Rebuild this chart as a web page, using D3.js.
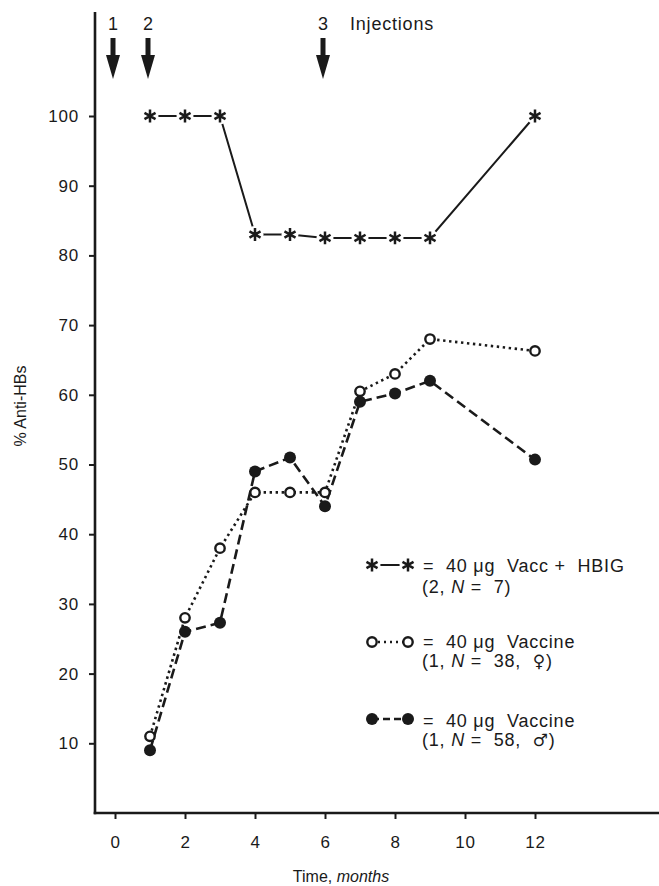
<!DOCTYPE html>
<html>
<head>
<meta charset="utf-8">
<script src="https://cdn.jsdelivr.net/npm/d3@7"></script>
<style>
  body { margin: 0; background: #fff; }
  svg { display: block; font-family: "Liberation Sans", Arial, "DejaVu Sans", sans-serif; }
  .tick text { font-size: 17px; letter-spacing: 0.8px; fill: #1a1a1a; }
  .leg { font-size: 18px; letter-spacing: 0.8px; white-space: pre; fill: #1a1a1a; }
  .sex { font-family: "DejaVu Sans", sans-serif; font-size: 17px; }
</style>
</head>
<body>
<div id="chart-area"></div>
<script>
// Data
const months = [1, 2, 3, 4, 5, 6, 7, 8, 9, 12];
const hbig = [100, 100, 100, 83, 83, 82.5, 82.5, 82.5, 82.5, 100];
const vaccFemale = [11, 28, 38, 46, 46, 46, 60.5, 63, 68, 66.3];
const vaccMale = [9, 26, 27.3, 49, 51, 44, 59, 60.2, 62, 50.7];
const xTicks = [0, 2, 4, 6, 8, 10, 12];
const yTicks = [10, 20, 30, 40, 50, 60, 70, 80, 90, 100];
const injectionMonths = [0, 1, 6];
const injectionLabels = ["1", "2", "3"];

const width = 659;
const height = 886;
const ink = "#1a1a1a";

const svg = d3
    .select("#chart-area")
    .append("svg")
    .attr("width", width)
    .attr("height", height);

//Scales
const xScale = d3.scaleLinear().domain([0, 12]).range([115, 535]);
const yScale = d3.scaleLinear().domain([0, 100]).range([813, 116]);

const axisX = 95;
const axisY = 813;

//Axes
const yAxisCall = d3.axisLeft(yScale).tickValues(yTicks).tickSize(6).tickPadding(10);
const xAxisCall = d3.axisBottom(xScale).tickValues(xTicks).tickSize(6).tickPadding(17);

const gy = svg.append("g").attr("transform", `translate(${axisX}, 0)`).call(yAxisCall);
const gx = svg.append("g").attr("transform", `translate(0, ${axisY})`).call(xAxisCall);
gy.select(".domain").remove();
gx.select(".domain").remove();
svg.selectAll(".tick line").attr("stroke", ink).attr("stroke-width", 2);

svg.append("line")
    .attr("x1", axisX).attr("x2", axisX)
    .attr("y1", 12).attr("y2", axisY + 1.2)
    .attr("stroke", ink).attr("stroke-width", 2.6);
svg.append("line")
    .attr("x1", axisX - 1.3).attr("x2", width)
    .attr("y1", axisY).attr("y2", axisY)
    .attr("stroke", ink).attr("stroke-width", 2.6);

//Labels
svg.append("text")
    .attr("transform", `translate(26, 406) rotate(-90)`)
    .attr("text-anchor", "middle")
    .style("font-size", "16px")
    .attr("fill", ink)
    .text("% Anti-HBs");

const xLabel = svg.append("text")
    .attr("x", 341).attr("y", 882)
    .attr("text-anchor", "middle")
    .style("font-size", "16px")
    .attr("fill", ink);
xLabel.append("tspan").text("Time, ");
xLabel.append("tspan").attr("font-style", "italic").text("months");

//Injection arrows
injectionMonths.forEach((m, i) => {
    const cx = xScale(m) - 2;
    svg.append("rect")
        .attr("x", cx - 2.5).attr("y", 38)
        .attr("width", 5).attr("height", 20)
        .attr("fill", ink);
    svg.append("path")
        .attr("d", `M${cx - 7},55 L${cx + 7},55 L${cx},79 Z`)
        .attr("fill", ink);
    svg.append("text")
        .attr("x", cx).attr("y", 30)
        .attr("text-anchor", "middle")
        .attr("font-size", "18px")
        .attr("fill", ink)
        .text(injectionLabels[i]);
});
svg.append("text")
    .attr("x", 350).attr("y", 30)
    .attr("font-size", "18px")
    .attr("letter-spacing", "0.8px")
    .attr("fill", ink)
    .text("Injections");

//Series
const toPoints = (vals) => months.map((m, i) => ({ m, v: vals[i] }));
const line = d3.line().x((d) => xScale(d.m)).y((d) => yScale(d.v));

const starSymbol = d3.symbol().type(d3.symbolAsterisk).size(115);

const drawStar = (sel, x, y) => {
    sel.append("circle").attr("cx", x).attr("cy", y).attr("r", 8.5).attr("fill", "#fff");
    sel.append("path")
        .attr("d", starSymbol())
        .attr("transform", `translate(${x}, ${y})`)
        .attr("fill", "none")
        .attr("stroke", ink)
        .attr("stroke-width", 2.5);
};
const drawOpen = (sel, x, y) => {
    sel.append("circle").attr("cx", x).attr("cy", y).attr("r", 4.7)
        .attr("fill", "#fff").attr("stroke", ink).attr("stroke-width", 2.4);
};
const drawFilled = (sel, x, y) => {
    sel.append("circle").attr("cx", x).attr("cy", y).attr("r", 6).attr("fill", ink);
};

// star series line
svg.append("path")
    .datum(toPoints(hbig))
    .attr("d", line)
    .attr("fill", "none")
    .attr("stroke", ink)
    .attr("stroke-width", 2);

// female (open circles, dotted)
svg.append("path")
    .datum(toPoints(vaccFemale))
    .attr("d", line)
    .attr("fill", "none")
    .attr("stroke", ink)
    .attr("stroke-width", 2.6)
    .attr("stroke-dasharray", "2.4,3.6");

// male (filled circles, dashed)
svg.append("path")
    .datum(toPoints(vaccMale))
    .attr("d", line)
    .attr("fill", "none")
    .attr("stroke", ink)
    .attr("stroke-width", 2.6)
    .attr("stroke-dasharray", "10,5");

const markers = svg.append("g");
toPoints(hbig).forEach((d) => drawStar(markers, xScale(d.m), yScale(d.v)));
toPoints(vaccFemale).forEach((d) => drawOpen(markers, xScale(d.m), yScale(d.v)));
toPoints(vaccMale).forEach((d) => drawFilled(markers, xScale(d.m), yScale(d.v)));

//Legend
const legend = svg.append("g");
const lx1 = 372, lx2 = 408;

// item 1
legend.append("line").attr("x1", lx1).attr("x2", lx2).attr("y1", 565).attr("y2", 565)
    .attr("stroke", ink).attr("stroke-width", 2.2);
drawStar(legend, lx1, 565);
drawStar(legend, lx2, 565);
legend.append("text").attr("class", "leg").attr("x", 423).attr("y", 572)
    .text("=  40 \u03bcg  Vacc +  HBIG");
const l1b = legend.append("text").attr("class", "leg").attr("x", 422).attr("y", 593);
l1b.append("tspan").text("(2, ");
l1b.append("tspan").attr("font-style", "italic").text("N");
l1b.append("tspan").text(" =  7)");

// item 2
legend.append("line").attr("x1", lx1).attr("x2", lx2).attr("y1", 642).attr("y2", 642)
    .attr("stroke", ink).attr("stroke-width", 2.4).attr("stroke-dasharray", "2,4");
drawOpen(legend, lx1, 642);
drawOpen(legend, lx2, 642);
legend.append("text").attr("class", "leg").attr("x", 423).attr("y", 648)
    .text("=  40 \u03bcg  Vaccine");
const l2b = legend.append("text").attr("class", "leg").attr("x", 422).attr("y", 667);
l2b.append("tspan").text("(1, ");
l2b.append("tspan").attr("font-style", "italic").text("N");
l2b.append("tspan").text(" =  38,  ");
l2b.append("tspan").attr("class", "sex").text("\u2640");
l2b.append("tspan").text(")");

// item 3
legend.append("line").attr("x1", lx1).attr("x2", lx2).attr("y1", 719).attr("y2", 719)
    .attr("stroke", ink).attr("stroke-width", 2.4).attr("stroke-dasharray", "7,4");
drawFilled(legend, lx1, 719);
drawFilled(legend, lx2, 719);
legend.append("text").attr("class", "leg").attr("x", 423).attr("y", 727)
    .text("=  40 \u03bcg  Vaccine");
const l3b = legend.append("text").attr("class", "leg").attr("x", 422).attr("y", 746);
l3b.append("tspan").text("(1, ");
l3b.append("tspan").attr("font-style", "italic").text("N");
l3b.append("tspan").text(" =  58,  ");
l3b.append("tspan").attr("class", "sex").text("\u2642");
l3b.append("tspan").text(")");
</script>
</body>
</html>
